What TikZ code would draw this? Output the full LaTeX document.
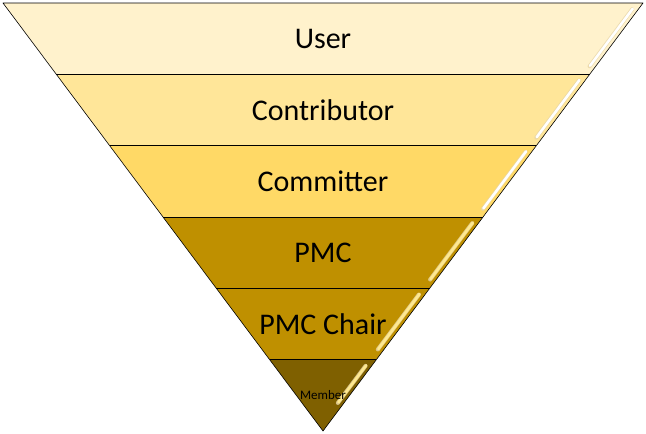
\documentclass[tikz,border=0pt]{standalone}
\usepackage{fontspec}
\setmainfont{Carlito}
\usetikzlibrary{calc}

\definecolor{userfill}{HTML}{FFF2CC}
\definecolor{contribfill}{HTML}{FFE699}
\definecolor{committerfill}{HTML}{FFD966}
\definecolor{pmcfill}{HTML}{BF9000}
\definecolor{chairfill}{HTML}{BF9000}
\definecolor{memberfill}{HTML}{7F6000}
\definecolor{shineyellow}{HTML}{FFE98F}
\definecolor{shineedge}{HTML}{E8D6A8}

\tikzset{
  band/.style={draw=black, line width=0.6pt, line join=round},
  shine/.style={draw=#1, line width=2.6pt, line cap=round},
  shinebase/.style={draw=shineedge, line width=4pt, line cap=round, opacity=0.8},
  level/.style={font=\fontsize{30}{34}\selectfont, text=black},
  smalllevel/.style={font=\fontsize{13}{15}\selectfont, text=black},
}

\begin{document}
\begin{tikzpicture}[x=1pt,y=-1pt]
\useasboundingbox (0,0) rectangle (646,434);
\coordinate (tl) at (3,3);
\coordinate (tr) at (643,3);
\coordinate (top) at (323,3);
\coordinate (apex) at (323,431);
\foreach \i in {0,...,6} {
  \coordinate (L\i) at ($(tl)!\i/6!(apex)$);
  \coordinate (R\i) at ($(tr)!\i/6!(apex)$);
}
% bands, with the glossy strip along the right edge
\foreach \i/\j/\c/\s/\e in {0/1/userfill/white/0.88,
                             1/2/contribfill/white/0.88,
                             2/3/committerfill/white/0.88,
                             3/4/pmcfill/shineyellow/0.87,
                             4/5/chairfill/shineyellow/0.85,
                             5/6/memberfill/shineyellow/0.6} {
  \fill[\c] (L\i) -- (R\i) -- (R\j) -- (L\j) -- cycle;
  \draw[shinebase] ($(R\i)!0.08!(R\j)+(-6.5,0.5)$) -- ($(R\i)!\e!(R\j)+(-6.5,0.5)$);
  \draw[shine=\s] ($(R\i)!0.08!(R\j)+(-6,0)$) -- ($(R\i)!\e!(R\j)+(-6,0)$);
}
\draw[band] (tl) -- (tr) -- (apex) -- cycle;
\foreach \i in {1,...,5}
  \draw[band] (L\i) -- (R\i);

\node[level] (user) at ($(top)!0.5/6!(apex)$) {User};
\node[level] (contributor) at ($(top)!1.5/6!(apex)$) {Contributor};
\node[level] (committer) at ($(top)!2.5/6!(apex)$) {Committer};
\node[level] (pmc) at ($(top)!3.5/6!(apex)$) {PMC};
\node[level] (chair) at ($(top)!4.5/6!(apex)$) {PMC Chair};
\node[smalllevel] (member) at ($(top)!5.5/6!(apex)$) {Member};
\end{tikzpicture}
\end{document}
